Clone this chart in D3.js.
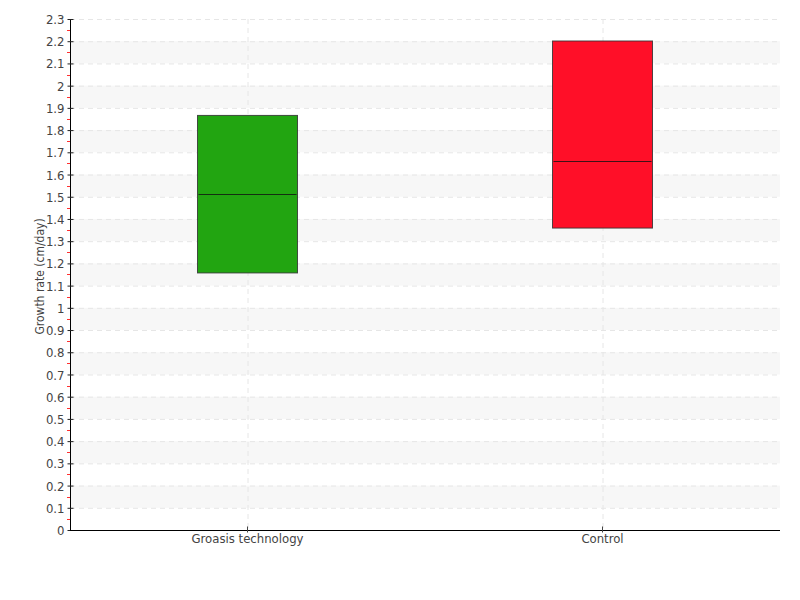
<!DOCTYPE html>
<html><head><meta charset="utf-8">
<script src="https://cdn.jsdelivr.net/npm/d3@7"></script>
<style>body{margin:0;background:#fff}svg text{font-family:"DejaVu Sans Condensed","DejaVu Sans",sans-serif;fill:#444;}</style>
</head><body>
<svg id="c" width="800" height="600"></svg>
<script>
const categories = ["Groasis technology", "Control"];
const q1 = [1.157, 1.359];
const median = [1.512, 1.663];
const q3 = [1.866, 2.201];
const colors = ["#22a511", "#ff0f28"];
const yTicks = d3.range(0, 24).map(i => +(i / 10).toFixed(1));
const yTitle = "Growth rate (cm/day)";

const svg = d3.select("#c");
const m = {l: 70, r: 20, t: 19, b: 70};
const W = 800, H = 600;
const x = d3.scaleBand().domain(categories).range([m.l, W - m.r]);
const y = d3.scaleLinear().domain([0, 2.3]).range([H - m.b, m.t]);

// alternating bands
const bands = yTicks.filter(v => Math.round(v * 10) % 2 === 1 && v < 2.3);
svg.append("g").selectAll("rect").data(bands).join("rect")
  .attr("x", m.l + 1).attr("width", W - m.r - m.l - 1)
  .attr("y", d => y(d + 0.1)).attr("height", d => y(d) - y(d + 0.1))
  .attr("fill", "#f7f7f7");

// horizontal grid
svg.append("g").selectAll("line").data(yTicks.filter(v => v > 0)).join("line")
  .attr("x1", m.l).attr("x2", W - m.r)
  .attr("y1", d => y(d) + 0.5).attr("y2", d => y(d) + 0.5)
  .attr("stroke", "#e6e6e6").attr("stroke-dasharray", "5,4");
// vertical grid
svg.append("g").selectAll("line").data(categories).join("line")
  .attr("x1", d => x(d) + x.bandwidth() / 2 + 0.5).attr("x2", d => x(d) + x.bandwidth() / 2 + 0.5)
  .attr("y1", m.t).attr("y2", H - m.b)
  .attr("stroke", "#e6e6e6").attr("stroke-dasharray", "5,4");

// boxes
const bw = 100;
const g = svg.append("g");
categories.forEach((c, i) => {
  const cx = x(c) + x.bandwidth() / 2;
  g.append("rect").attr("x", cx - bw / 2).attr("width", bw)
    .attr("y", y(q3[i])).attr("height", y(q1[i]) - y(q3[i]))
    .attr("fill", colors[i]).attr("stroke", "#333").attr("stroke-opacity", 0.85).attr("stroke-width", 1);
  g.append("line").attr("x1", cx - bw / 2 + 1).attr("x2", cx + bw / 2 - 1)
    .attr("y1", Math.round(y(median[i])) + 0.5).attr("y2", Math.round(y(median[i])) + 0.5)
    .attr("stroke", "#111").attr("stroke-opacity", 0.8).attr("stroke-width", 1);
});

// minor ticks (red)
const minor = d3.range(0, 23).map(i => i / 10 + 0.05);
svg.append("g").selectAll("line").data(minor).join("line")
  .attr("x1", m.l - 3).attr("x2", m.l)
  .attr("y1", d => Math.round(y(d)) + 0.5).attr("y2", d => Math.round(y(d)) + 0.5)
  .attr("stroke", "#ff3030");

// y axis
const ya = d3.axisLeft(y).tickValues(yTicks).tickFormat(d => d3.format("~g")(d)).tickSize(3).tickPadding(3);
const yg = svg.append("g").attr("transform", `translate(${m.l + 0.5},0)`).call(ya);
yg.select(".domain").attr("stroke", "#000").attr("d", `M0,${y(2.3)}V${y(0)}`);
yg.selectAll(".tick line").attr("x1", 3).attr("x2", -3).attr("stroke", "#222");
yg.selectAll(".tick text").attr("font-size", 13).attr("fill", "#444").attr("font-family", null).attr("dy", "0.35em");

// x axis
const xa = d3.axisBottom(x).tickSize(0).tickPadding(3);
const xg = svg.append("g").attr("transform", `translate(0,${H - m.b + 0.5})`).call(xa);
xg.select(".domain").attr("stroke", "#000").attr("d", `M${m.l},0H${W - m.r}`);
xg.selectAll(".tick").append("line").attr("y1", -4).attr("y2", 2).attr("stroke", "#444");
xg.selectAll(".tick text").attr("font-size", 13).attr("fill", "#444").attr("font-family", null);

// y title
svg.append("text").attr("transform", `translate(44,${(m.t + H - m.b) / 2 + 2}) rotate(-90)`)
  .attr("text-anchor", "middle").attr("font-size", 12).text(yTitle);
</script>
</body></html>
